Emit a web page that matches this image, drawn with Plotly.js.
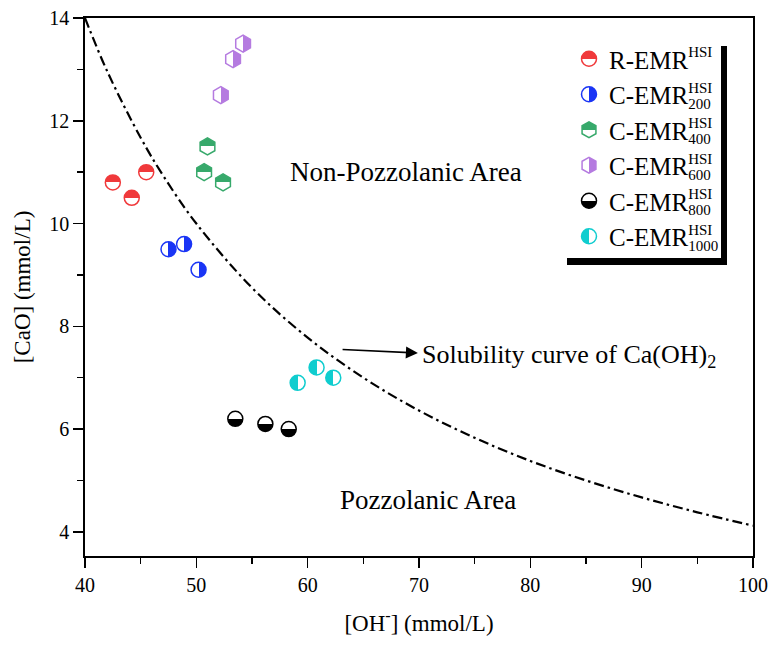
<!DOCTYPE html>
<html>
<head>
<meta charset="utf-8">
<script src="https://cdn.plot.ly/plotly-3.0.1.min.js"></script>
<style>html,body{margin:0;padding:0;background:#fff;}#chart{width:771px;height:650px;}</style>
</head>
<body>
<div id="chart"></div>
<script>
// ---- data ----
const seriesNames = [
  'R-EMR<sup>HSI</sup>',
  'C-EMR<sup>HSI</sup><sub>200</sub>',
  'C-EMR<sup>HSI</sup><sub>400</sub>',
  'C-EMR<sup>HSI</sup><sub>600</sub>',
  'C-EMR<sup>HSI</sup><sub>800</sub>',
  'C-EMR<sup>HSI</sup><sub>1000</sub>'
];
const ohR    = [42.5, 44.2, 45.5];   const caoR    = [10.8, 10.5, 11.0];
const oh200  = [47.5, 48.9, 50.2];   const cao200  = [9.5, 9.6, 9.1];
const oh400  = [51.0, 50.7, 52.4];   const cao400  = [11.5, 11.0, 10.8];
const oh600  = [54.2, 53.3, 52.2];   const cao600  = [13.5, 13.2, 12.5];
const oh800  = [53.5, 56.2, 58.3];   const cao800  = [6.2, 6.1, 6.0];
const oh1000 = [59.1, 60.8, 62.3];   const cao1000 = [6.9, 7.2, 7.0];

// solubility curve of Ca(OH)2
const curveOH  = [40, 42, 45, 47, 50, 55, 60, 65, 70, 75, 80, 85, 90, 95, 100];
const curveCaO = [14.0, 12.96, 11.67, 10.94, 10.0, 8.75, 7.78, 7.0, 6.36, 5.83, 5.38, 5.0, 4.67, 4.38, 4.12];

const xTicks = [40, 50, 60, 70, 80, 90, 100];
const yTicks = [4, 6, 8, 10, 12, 14];

// ---- styling ----
const FONT = 'Liberation Serif, Times New Roman, serif';
const styles = [
  {c: '#f0393b', sym: 'circle',  g: 'vertical',   swap: false, size: 15},
  {c: '#1a35f5', sym: 'circle',  g: 'horizontal', swap: true,  size: 15},
  {c: '#37a96b', sym: 'hexagon', g: 'vertical',   swap: false, size: 17},
  {c: '#b57be0', sym: 'hexagon', g: 'horizontal', swap: true,  size: 17},
  {c: '#000000', sym: 'circle',  g: 'vertical',   swap: true,  size: 15},
  {c: '#10cdcf', sym: 'circle',  g: 'horizontal', swap: false, size: 15}
];
const xs = [ohR, oh200, oh400, oh600, oh800, oh1000];
const ys = [caoR, cao200, cao400, cao600, cao800, cao1000];

const traces = [{
  x: curveOH, y: curveCaO, mode: 'lines', showlegend: false, hoverinfo: 'skip',
  line: {color: '#000', width: 2.2, dash: '10px,4px,2.5px,4px', shape: 'spline', smoothing: 1}
}];
styles.forEach((s, i) => {
  traces.push({
    x: xs[i], y: ys[i], name: seriesNames[i], mode: 'markers', type: 'scatter',
    legendgroup: 'g' + i,
    marker: {
      symbol: s.sym, size: s.size,
      color: s.swap ? '#ffffff' : s.c,
      gradient: {type: s.g, color: s.swap ? s.c : '#ffffff'},
      line: {color: s.c, width: 1.5}
    }
  });
});

const px2x = p => (p - 85) / 668, px2y = p => (556 - p) / 538;
const layout = {
  width: 771, height: 650,
  margin: {l: 85, r: 18, t: 18, b: 94},
  paper_bgcolor: '#fff', plot_bgcolor: '#fff',
  font: {family: FONT, color: '#000', size: 20},
  showlegend: true,
  legend: {
    x: px2x(569), y: px2y(36), xanchor: 'left', yanchor: 'top',
    bgcolor: 'rgba(0,0,0,0)', borderwidth: 0, tracegroupgap: 0,
    font: {family: FONT, size: 25, color: '#000'}
  },
  xaxis: {
    range: [40, 100], tickvals: xTicks, ticks: 'outside', ticklen: 10, tickwidth: 1.6,
    tickcolor: '#000', linecolor: '#000', linewidth: 1.8, mirror: true,
    showgrid: false, zeroline: false,
    minor: {dtick: 5, tick0: 40, ticks: 'outside', ticklen: 6, tickwidth: 1.6, tickcolor: '#000', showgrid: false},
    tickfont: {family: FONT, size: 20},
    title: {text: '[OH<sup>-</sup>] (mmol/L)', font: {family: FONT, size: 23}, standoff: 20}
  },
  yaxis: {
    range: [3.53, 14], tickvals: yTicks, ticks: 'outside', ticklen: 10, tickwidth: 1.6,
    tickcolor: '#000', linecolor: '#000', linewidth: 1.8, mirror: true,
    showgrid: false, zeroline: false,
    minor: {dtick: 1, tick0: 0, ticks: 'outside', ticklen: 6, tickwidth: 1.6, tickcolor: '#000', showgrid: false},
    tickfont: {family: FONT, size: 20},
    title: {text: '[CaO] (mmol/L)', font: {family: FONT, size: 23}, standoff: 12}
  },
  shapes: [
    {type: 'rect', xref: 'paper', yref: 'paper', x0: px2x(721), x1: px2x(727), y0: px2y(265), y1: px2y(46), fillcolor: '#000', line: {width: 0}},
    {type: 'rect', xref: 'paper', yref: 'paper', x0: px2x(567), x1: px2x(727), y0: px2y(265), y1: px2y(258), fillcolor: '#000', line: {width: 0}}
  ],
  annotations: [
    {x: 68.8, y: 11.0, xref: 'x', yref: 'y', text: 'Non-Pozzolanic Area', showarrow: false,
     font: {family: FONT, size: 27, color: '#000'}},
    {x: 70.85, y: 4.62, xref: 'x', yref: 'y', text: 'Pozzolanic Area', showarrow: false,
     font: {family: FONT, size: 27, color: '#000'}},
    {x: 70.1, y: 7.42, xref: 'x', yref: 'y', text: 'Solubility curve of Ca(OH)<sub>2</sub>', showarrow: false,
     xanchor: 'left', font: {family: FONT, size: 26, color: '#000'}},
    {x: 69.9, y: 7.48, xref: 'x', yref: 'y', ax: 63.0, ay: 7.55, axref: 'x', ayref: 'y', text: '',
     showarrow: true, arrowhead: 2, arrowsize: 1.5, arrowwidth: 1.6, arrowcolor: '#000'}
  ]
};

Plotly.newPlot('chart', traces, layout, {staticPlot: true, displayModeBar: false}).then(() => {
  // sharp half fills for the half-filled markers
  document.querySelectorAll('linearGradient').forEach(g => {
    const stops = Array.from(g.querySelectorAll('stop'));
    if (stops.length !== 2) return;
    stops.sort((a, b) => parseFloat(a.getAttribute('offset')) - parseFloat(b.getAttribute('offset')));
    const s1 = stops[0].cloneNode(true); s1.setAttribute('offset', '50%');
    const s2 = stops[1].cloneNode(true); s2.setAttribute('offset', '50%');
    g.insertBefore(s1, stops[1]);
    g.insertBefore(s2, stops[1]);
  });
  // smaller sup/sub in legend labels, subscript stacked under superscript
  document.querySelectorAll('.legendtext').forEach(t => {
    const spans = Array.from(t.querySelectorAll('tspan'));
    let sup = null, sub = null;
    spans.forEach(sp => {
      const st = sp.getAttribute('style') || '';
      if (st.indexOf('font-size') < 0) return;
      const dy = parseFloat(sp.getAttribute('dy') || '0');
      sp.setAttribute('style', 'font-size:60%');
      if (dy < 0) sup = sp; else if (dy > 0) sub = sp;
    });
    if (sup) sup.setAttribute('dy', '-0.75em');
    if (sub) sub.setAttribute('dy', '0.35em');
    if (sup && sub) {
      const w = sup.getComputedTextLength();
      sub.setAttribute('dx', (-w).toFixed(2));
    }
  });
});
</script>
</body>
</html>
